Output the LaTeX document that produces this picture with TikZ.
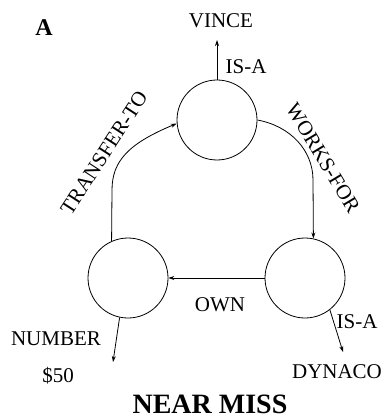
\documentclass[tikz,border=0pt]{standalone}
\usepackage{fontspec}
\setmainfont{Liberation Serif}
\usetikzlibrary{arrows.meta}
\begin{document}
\begin{tikzpicture}[x=1pt,y=-1pt,
  conc/.style={draw, circle, minimum size=80pt, inner sep=0pt, line width=0.8pt},
  lbl/.style={font=\fontsize{21}{21}\selectfont, inner sep=0pt},
  ttl/.style={font=\bfseries\fontsize{28}{28}\selectfont, inner sep=0pt},
  link/.style={line width=0.8pt, -{Stealth[length=6pt,width=4pt]}}]
\useasboundingbox (0,0) rectangle (386,419);
\node[conc] (top) at (217,120) {};
\node[conc] (left) at (128,278) {};
\node[conc] (right) at (305,278) {};
\coordinate (vinceend) at (217,40);
\coordinate (numend) at (113,362);
\coordinate (dynend) at (343,352);
% connectors
\draw[link] (top.north) -- (vinceend);
\draw[link] (top.east) .. controls (290,126) and (313,150) .. (313,180) -- (right.78);
\draw[link] (left.114) -- (112,190) .. controls (112,160) and (130,143) .. (top.185);
\draw[link] (right.west) -- (left.east);
\draw[link] (left.258) -- (numend);
\draw[link] (right.-52) -- (dynend);
% labels
\node[font=\bfseries\fontsize{24}{24}\selectfont, inner sep=0pt] (lA) at (44,28) {A};
\node[lbl] (vince) at (221,21) {VINCE};
\node[lbl] (isa1) at (246,67) {IS-A};
\node[lbl, rotate=-59] (works) at (323,158) {WORKS-FOR};
\node[lbl, rotate=57] (transfer) at (104,153) {TRANSFER-TO};
\node[lbl] (own) at (220,305) {OWN};
\node[lbl] (number) at (56,339) {NUMBER};
\node[lbl] (fifty) at (58,376) {\$50};
\node[lbl] (isa2) at (357,322) {IS-A};
\node[lbl] (dynaco) at (337,372) {DYNACO};
\node[ttl] (near) at (210,404) {NEAR MISS};
\end{tikzpicture}
\end{document}
